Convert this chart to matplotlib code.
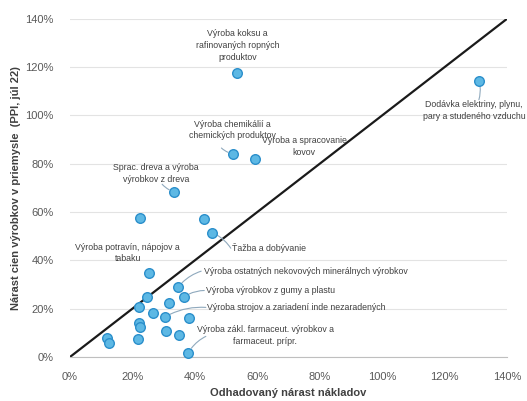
import matplotlib.pyplot as plt
from matplotlib.ticker import PercentFormatter

plt.rcParams["font.family"] = ["Liberation Sans", "DejaVu Sans"]

# odhadovany narast nakladov (x) vs narast cien PPI (y), v %
cost = [53.6, 52.3, 59.1, 33.4, 131.0, 45.6, 25.4, 34.7, 36.6, 30.5, 37.9,
        22.5, 43.0, 24.7, 22.2, 31.8, 26.6, 38.0, 22.2, 22.4, 30.8, 35.0,
        21.8, 11.9, 12.5]
ppi = [117.6, 84.1, 82.0, 68.4, 114.3, 51.4, 34.8, 29.0, 24.9, 16.6, 1.7,
       57.6, 57.2, 24.9, 20.7, 22.4, 18.2, 16.2, 14.1, 12.3, 10.8, 9.1,
       7.5, 7.9, 5.8]

# popisky: (index bodu, text, pozicia textu, zarovnanie)
labels = [
    (0, "Výroba koksu a\nrafinovaných ropných\nproduktov", (53.6, 129), "center"),
    (1, "Výroba chemikálií a\nchemických produktov", (52, 94), "center"),
    (2, "Výroba a spracovanie\nkovov", (75, 87), "center"),
    (3, "Sprac. dreva a výroba\nvýrobkov z dreva", (27.5, 76), "center"),
    (4, "Dodávka elektriny, plynu,\npary a studeného vzduchu", (129.5, 102), "center"),
    (5, "Ťažba a dobývanie", (52, 45), "left"),
    (6, "Výroba potravín, nápojov a\ntabaku", (18.5, 43), "center"),
    (7, "Výroba ostatných nekovových minerálnych výrobkov", (43, 35.5), "left"),
    (8, "Výroba výrobkov z gumy a plastu", (43.5, 27.5), "left"),
    (9, "Výroba strojov a zariadení inde nezaradených", (44, 20.5), "left"),
    (10, "Výroba zákl. farmaceut. výrobkov a\nfarmaceut. prípr.", (62.5, 9), "center"),
]

fig = plt.figure(figsize=(5.27, 4.01), dpi=100)
ax = fig.add_axes([0.133, 0.110, 0.829, 0.843])

ax.plot([0, 140], [0, 140], color="#1a1a1a", lw=1.6, zorder=2)
ax.scatter(cost, ppi, s=48, color="#5db8e4", edgecolor="#2b8fcb",
           linewidth=1.0, zorder=3, clip_on=False)

for i, txt, pos, ha in labels:
    ax.text(pos[0], pos[1], txt, fontsize=6.3, color="#404040", ha=ha,
            va="center", linespacing=1.4, zorder=4)

# vodiace ciary
leaders = [
    (1, (48.5, 86.5)),
    (3, (29.5, 71.5)),
    (4, (131, 106.5)),
    (5, (51.5, 45)),
    (7, (42, 35.5)),
    (8, (43, 27.5)),
    (9, (43.5, 20.5)),
    (10, (43.5, 8.5)),
]
for i, (tx, ty) in leaders:
    ax.annotate("", xy=(cost[i], ppi[i]), xytext=(tx, ty),
                arrowprops=dict(arrowstyle="-", color="#8fa9bd", lw=0.8,
                                shrinkA=0, shrinkB=4,
                                connectionstyle="arc3,rad=0.15"),
                zorder=2)

ax.set_xlim(0, 140)
ax.set_ylim(0, 140)
ax.set_xticks(range(0, 141, 20))
ax.set_yticks(range(0, 141, 20))
ax.xaxis.set_major_formatter(PercentFormatter(decimals=0))
ax.yaxis.set_major_formatter(PercentFormatter(decimals=0))
ax.tick_params(labelsize=8, colors="#595959", length=0)
ax.tick_params(axis="x", pad=11)
ax.tick_params(axis="y", pad=12)
ax.grid(axis="y", color="#e3e3e3", lw=0.8, zorder=0)
for s in ["top", "right", "left"]:
    ax.spines[s].set_visible(False)
ax.spines["bottom"].set_color("#bfbfbf")

ax.set_xlabel("Odhadovaný nárast nákladov", fontsize=8, fontweight="bold",
              color="#404040", labelpad=4)
ax.set_ylabel("Nárast cien výrobkov v priemysle  (PPI, júl 22)", fontsize=8,
              fontweight="bold", color="#404040", labelpad=3)

fig.savefig("out.png", dpi=100)
